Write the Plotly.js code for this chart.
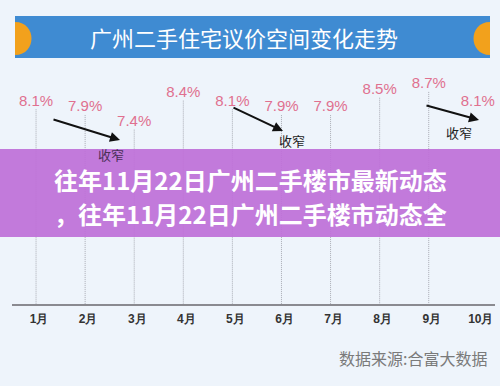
<!DOCTYPE html>
<html>
<head>
<meta charset="utf-8">
<script src="https://cdn.plot.ly/plotly-3.0.1.min.js"></script>
<style>html,body{margin:0;padding:0;background:#eef4fb;}#chart{width:500px;height:386px;}</style>
</head>
<body>
<div id="chart"></div>
<script>
// Data
var months = ["1月","2月","3月","4月","5月","6月","7月","8月","9月","10月"];
var monthPos = [1,2,3,4,5,6,7,8,9,10];
var values = [8.1, 7.9, 7.4, 8.4, 8.1, 7.9, 7.9, 8.5, 8.7, 8.1];
var valueLabels = ["8.1%","7.9%","7.4%","8.4%","8.1%","7.9%","7.9%","8.5%","8.7%","8.1%"];
var chartTitle = "广州二手住宅议价空间变化走势";
var overlayLines = ["往年11月22日广州二手楼市最新动态", "，往年11月22日广州二手楼市动态全"];
var narrowText = "收窄";
var sourceText = "数据来源:合富大数据";

// Layout geometry
var W = 500, H = 386;
var mL = 12, mR = 5, mT = 60, mB = 82;
var pw = W - mL - mR, ph = H - mT - mB;
function px(x){ return (x - mL) / pw; }
function py(y){ return (H - mB - y) / ph; }
var yMin = 1.39, yMax = 9.8;

// dotted droplines built from data
var dx = [], dy = [];
for (var i = 0; i < values.length - 1; i++) {
  dx.push(monthPos[i], monthPos[i], null);
  dy.push(values[i], yMin, null);
}

var traces = [
  {x: dx, y: dy, mode: 'lines', type: 'scatter', hoverinfo: 'skip',
   line: {color: '#a9abb4', width: 1, dash: '1px,1px'}},
  {x: monthPos, y: values, mode: 'text', type: 'scatter', text: valueLabels,
   textposition: 'top center', hoverinfo: 'skip',
   textfont: {family: 'Liberation Sans, Arial, sans-serif', size: 15, color: '#e0708f'}}
];

function halfCircle(cx, cy, r, dir) {
  var k = 4/3 * r * dir;
  return 'M' + px(cx) + ',' + py(cy - r) +
         ' C' + px(cx + k) + ',' + py(cy - r) + ' ' + px(cx + k) + ',' + py(cy + r) + ' ' + px(cx) + ',' + py(cy + r) + ' Z';
}

var shapes = [
  {type: 'rect', xref: 'paper', yref: 'paper', x0: px(15), x1: px(490), y0: py(58), y1: py(16),
   fillcolor: '#3f8bd2', line: {width: 0}, layer: 'above'},
  {type: 'path', xref: 'paper', yref: 'paper', path: halfCircle(15, 38.5, 16.5, 1),
   fillcolor: '#f2a11c', line: {width: 0}, layer: 'above'},
  {type: 'path', xref: 'paper', yref: 'paper', path: halfCircle(490, 38.5, 16.5, -1),
   fillcolor: '#f2a11c', line: {width: 0}, layer: 'above'},
  {type: 'rect', xref: 'paper', yref: 'paper', x0: px(0), x1: px(500), y0: py(237), y1: py(149),
   fillcolor: 'rgba(190,112,216,0.93)', line: {width: 0}, layer: 'above'}
];

function arrow(x0, y0, x1, y1) {
  return {xref: 'paper', yref: 'paper', x: px(x1), y: py(y1), ax: x0 - x1, ay: y0 - y1,
          axref: 'pixel', ayref: 'pixel', text: '', showarrow: true,
          arrowhead: 2, arrowsize: 1, arrowwidth: 2, arrowcolor: '#111'};
}
function label(x, y, text, size, color, extra) {
  var a = {xref: 'paper', yref: 'paper', x: px(x), y: py(y), text: text, showarrow: false,
           xanchor: 'center', yanchor: 'middle',
           font: {family: 'Noto Sans CJK SC, sans-serif', size: size, color: color}};
  if (extra) for (var k in extra) a[k] = extra[k];
  return a;
}

var annotations = [
  arrow(52, 119, 120, 140),
  arrow(232, 107, 283, 131),
  arrow(425, 105, 479, 120),
  label(111, 154, narrowText, 13, '#4a3058'),
  label(292, 140, narrowText, 13, '#222'),
  label(459, 132, narrowText, 13, '#222'),
  label(244, 37, chartTitle, 22, '#ffffff'),
  label(250, 179, '<b>' + overlayLines[0] + '</b>', 24, '#ffffff'),
  label(250, 213, '<b>' + overlayLines[1] + '</b>', 24, '#ffffff'),
  label(489, 358, sourceText, 16, '#7a7a7a', {xanchor: 'right'})
];

var layout = {
  width: W, height: H,
  margin: {l: mL, r: mR, t: mT, b: mB},
  paper_bgcolor: '#eef4fb', plot_bgcolor: 'rgba(0,0,0,0)',
  showlegend: false,
  xaxis: {range: [0.51, 10.35], tickmode: 'array', tickvals: monthPos, ticktext: months,
          showgrid: false, zeroline: false, showline: true, linecolor: '#8a8a90', linewidth: 1.5,
          ticks: '', ticklabelshift: 3, ticklabelstandoff: 3, fixedrange: true,
          tickfont: {family: 'Liberation Sans, Arial, sans-serif', size: 12, color: '#333', weight: 'bold'}},
  yaxis: {range: [yMin, yMax], visible: false, fixedrange: true},
  shapes: shapes,
  annotations: annotations
};

Plotly.newPlot('chart', traces, layout, {displayModeBar: false, staticPlot: true});
</script>
</body>
</html>
